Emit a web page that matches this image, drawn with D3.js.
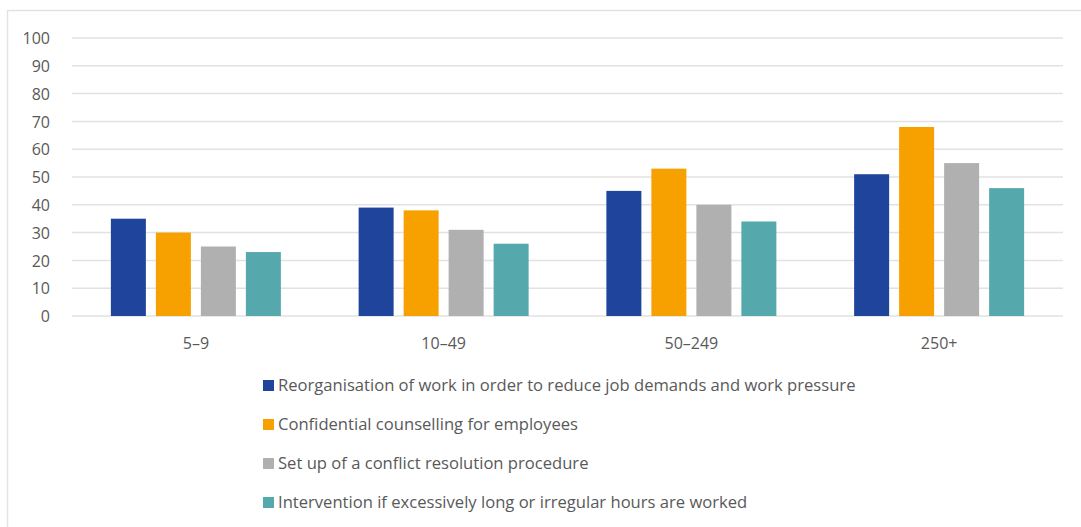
<!DOCTYPE html>
<html>
<head>
<meta charset="utf-8">
<script src="https://cdn.jsdelivr.net/npm/d3@7"></script>
<style>
  html, body { margin: 0; padding: 0; background: #fff; }
  svg { display: block; }
  text { font-family: "Open Sans", "Noto Sans", sans-serif; fill: #595959; }
</style>
</head>
<body>
<svg id="chart" width="1081" height="527"></svg>
<script>
const categories = ["5–9", "10–49", "50–249", "250+"];
const seriesNames = [
  "Reorganisation of work in order to reduce job demands and work pressure",
  "Confidential counselling for employees",
  "Set up of a conflict resolution procedure",
  "Intervention if excessively long or irregular hours are worked"
];
const seriesColors = ["#1f449c", "#f6a100", "#afb0af", "#55a9ad"];
const reorganisation = [35, 39, 45, 51];
const counselling = [30, 38, 53, 68];
const conflictProcedure = [25, 31, 40, 55];
const longHours = [23, 26, 34, 46];
const seriesValues = [reorganisation, counselling, conflictProcedure, longHours];
const yTicks = [0, 10, 20, 30, 40, 50, 60, 70, 80, 90, 100];

(function () {
const svg = d3.select("#chart");

svg.append("rect")
  .attr("x", 7.5).attr("y", 10.5)
  .attr("width", 1090).attr("height", 530)
  .attr("fill", "none").attr("stroke", "#e3e3e3").attr("stroke-width", 1.5);

const plotL = 72, plotR = 1063, plotT = 38, plotB = 316;

const y = d3.scaleLinear().domain([0, 100]).range([plotB, plotT]);
const x0 = d3.scaleBand().domain(categories).range([plotL, plotR]).padding(0);
const groupWidth = 170;
const x1 = d3.scaleBand().domain(d3.range(seriesNames.length)).range([0, groupWidth]).paddingInner(30 / 135).paddingOuter(0);

svg.append("g").selectAll("line").data(yTicks).join("line")
  .attr("x1", plotL).attr("x2", plotR)
  .attr("y1", d => y(d)).attr("y2", d => y(d))
  .attr("stroke", "#e2e2e2").attr("stroke-width", 1.5);

const yAxis = svg.append("g").attr("transform", `translate(${plotL - 22},0)`)
  .call(d3.axisLeft(y).tickValues(yTicks).tickSize(0).tickPadding(0));
yAxis.select(".domain").remove();
yAxis.selectAll("text").style("font-size", "16px").attr("fill", "#595959").attr("dy", "0.35em");

const groups = svg.append("g").selectAll("g").data(categories).join("g")
  .attr("transform", d => `translate(${x0(d) + (x0.bandwidth() - groupWidth) / 2},0)`);
groups.selectAll("rect")
  .data((c, ci) => seriesValues.map((vals, si) => ({ si, v: vals[ci] })))
  .join("rect")
  .attr("x", d => x1(d.si))
  .attr("width", x1.bandwidth())
  .attr("y", d => y(d.v))
  .attr("height", d => y(0) - y(d.v))
  .attr("fill", d => seriesColors[d.si]);

const xAxis = svg.append("g").attr("transform", `translate(0,${plotB})`)
  .call(d3.axisBottom(x0).tickSize(0).tickPadding(0));
xAxis.select(".domain").remove();
xAxis.selectAll("text").style("font-size", "16px").attr("fill", "#595959").attr("y", 27).attr("dy", "0.35em");

const legend = svg.append("g").selectAll("g").data(seriesNames).join("g")
  .attr("transform", (d, i) => `translate(263,${385 + i * 39})`);
legend.append("rect")
  .attr("x", 0).attr("y", -5).attr("width", 11).attr("height", 11)
  .attr("fill", (d, i) => seriesColors[i]);
legend.append("text")
  .attr("x", 15).attr("y", 0).attr("dy", "0.35em")
  .style("font-size", "16.6px")
  .text(d => d);
})();
</script>
</body>
</html>
